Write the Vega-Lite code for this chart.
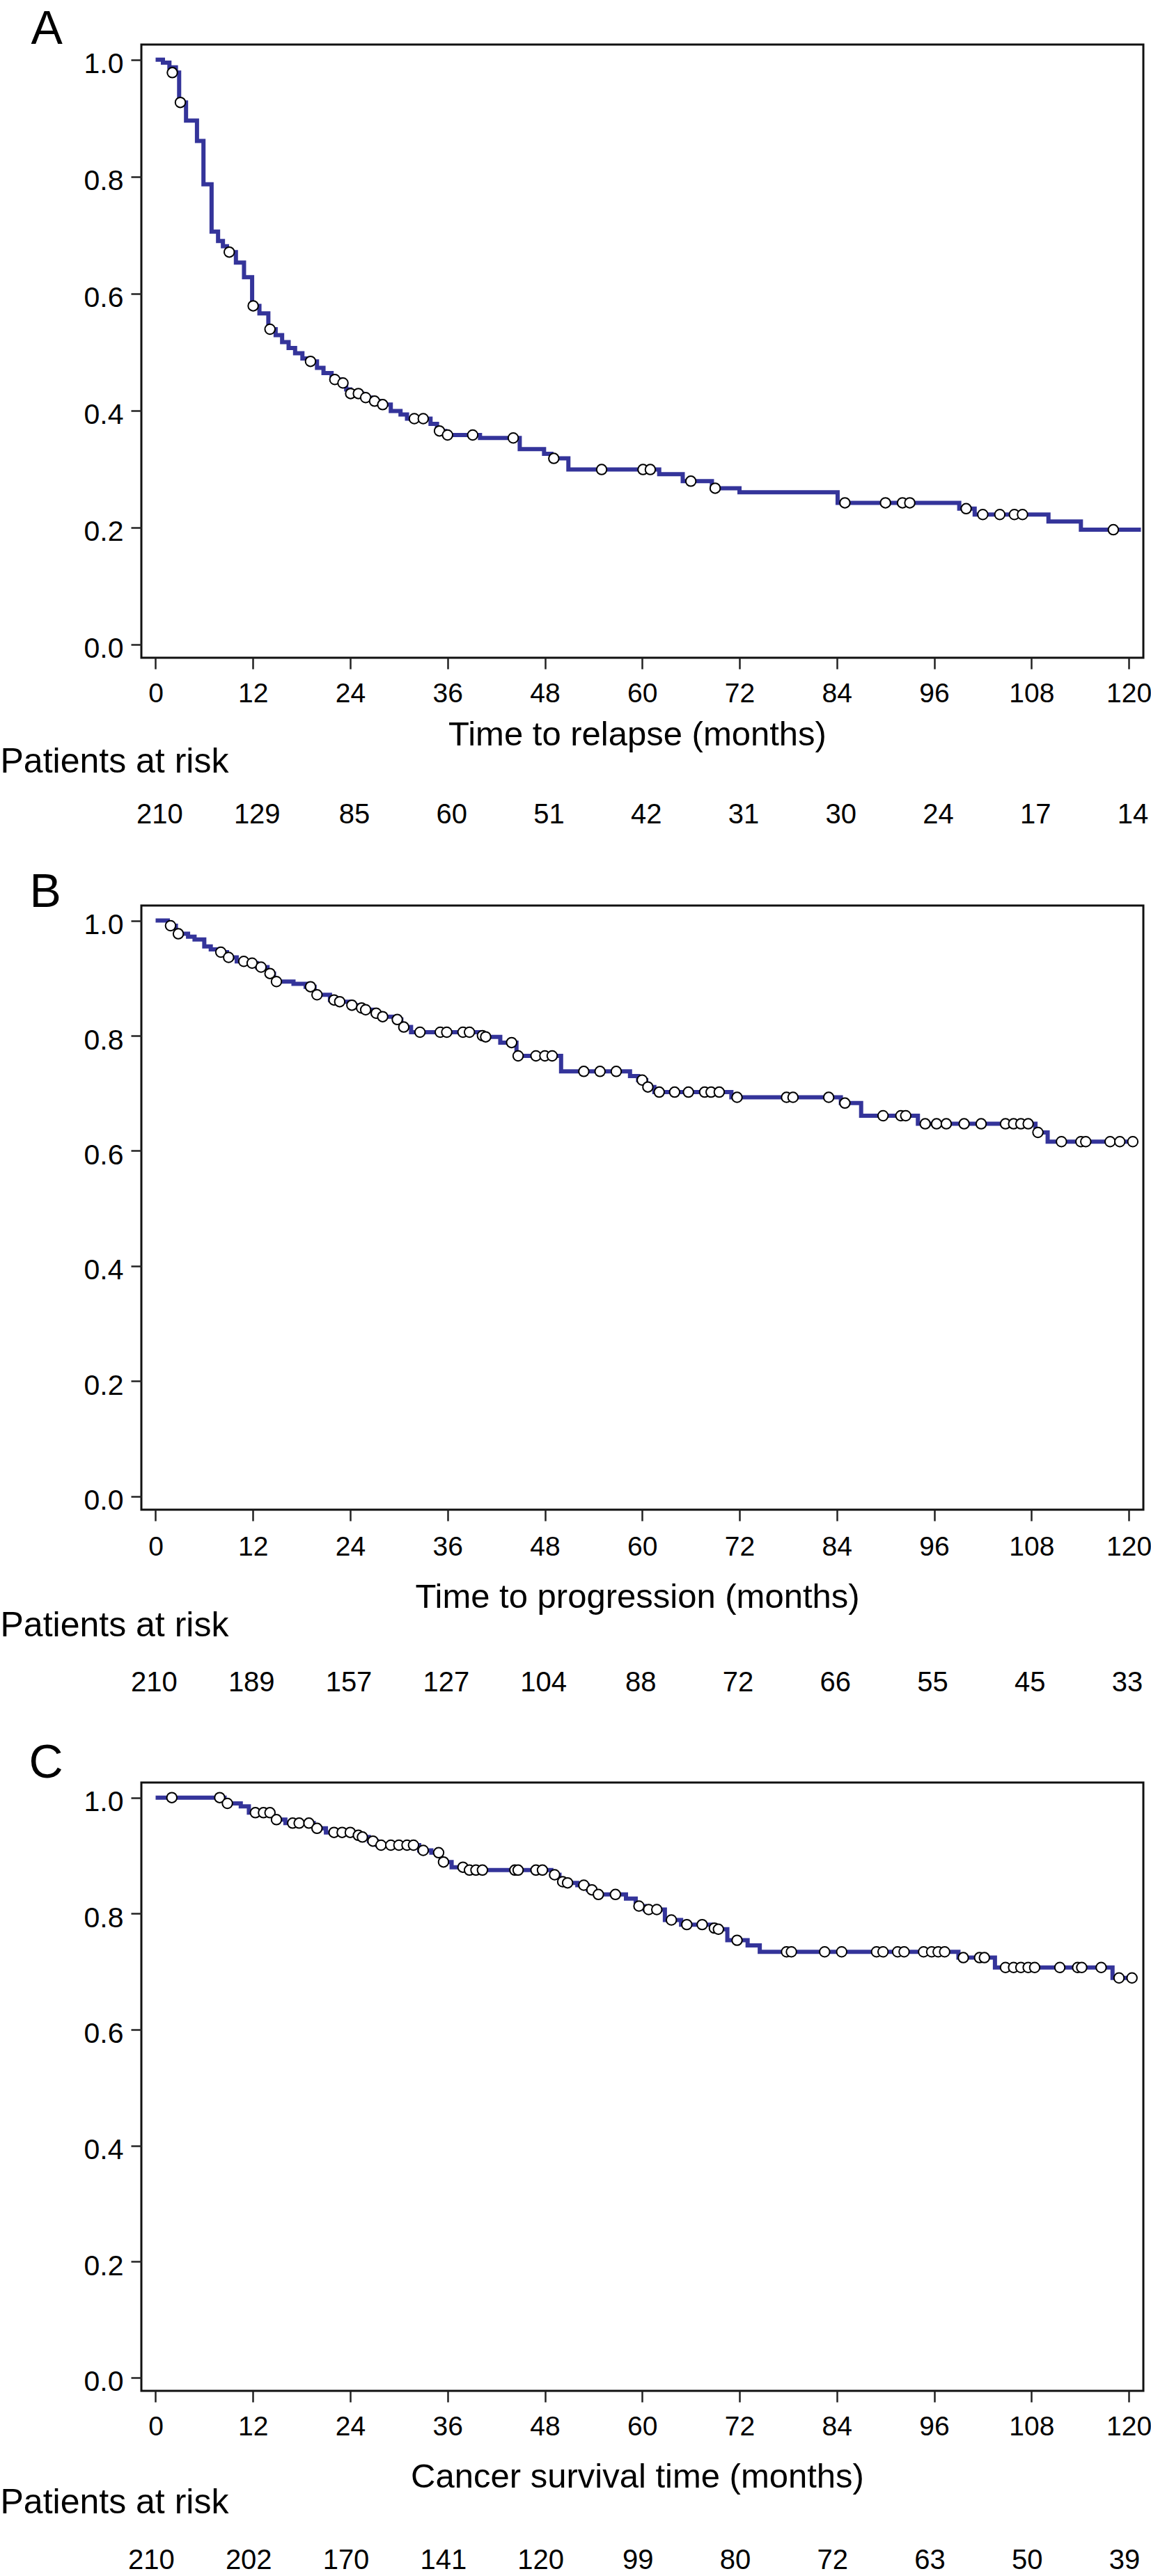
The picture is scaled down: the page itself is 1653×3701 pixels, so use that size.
{
  "$schema": "https://vega.github.io/schema/vega-lite/v6.json",
  "padding": {"left": 0, "top": 6, "right": 0, "bottom": 0},
  "background": "white",
  "bounds": "flush",
  "spacing": 0,
  "config": {
    "font": "Liberation Sans",
    "view": {"stroke": "#111111", "strokeWidth": 3},
    "axis": {"domain": false, "grid": false, "tickColor": "#222222", "tickWidth": 2.5, "labelColor": "black", "titleColor": "black", "titleFontWeight": "normal", "labelFontSize": 39, "titleFontSize": 49, "labelFlush": false, "labelOverlap": false}
  },
  "datasets": {
    "kmA": [
      {"t": 0, "s": 1.0}, {"t": 0.9, "s": 0.995}, {"t": 1.7, "s": 0.987}, {"t": 2.5, "s": 0.978}, {"t": 2.9, "s": 0.927}, {"t": 3.75, "s": 0.896}, {"t": 5.1, "s": 0.861}, {"t": 5.9, "s": 0.787}, {"t": 6.9, "s": 0.706}, {"t": 7.7, "s": 0.69}, {"t": 8.3, "s": 0.681}, {"t": 8.8, "s": 0.671}, {"t": 9.9, "s": 0.653}, {"t": 10.9, "s": 0.628}, {"t": 11.9, "s": 0.579}, {"t": 12.8, "s": 0.566}, {"t": 13.9, "s": 0.539}, {"t": 14.8, "s": 0.529}, {"t": 15.6, "s": 0.517}, {"t": 16.4, "s": 0.507}, {"t": 17.2, "s": 0.498}, {"t": 18.1, "s": 0.489}, {"t": 18.9, "s": 0.484}, {"t": 19.9, "s": 0.473}, {"t": 20.7, "s": 0.464}, {"t": 21.7, "s": 0.453}, {"t": 22.9, "s": 0.447}, {"t": 23.5, "s": 0.436}, {"t": 24.0, "s": 0.429}, {"t": 25.5, "s": 0.422}, {"t": 26.6, "s": 0.416}, {"t": 27.6, "s": 0.41}, {"t": 29.0, "s": 0.399}, {"t": 30.2, "s": 0.393}, {"t": 31.0, "s": 0.386}, {"t": 33.9, "s": 0.377}, {"t": 34.7, "s": 0.365}, {"t": 35.7, "s": 0.358}, {"t": 40.0, "s": 0.353}, {"t": 44.9, "s": 0.334}, {"t": 47.9, "s": 0.326}, {"t": 48.8, "s": 0.318}, {"t": 50.9, "s": 0.299}, {"t": 62.1, "s": 0.291}, {"t": 65.0, "s": 0.279}, {"t": 68.6, "s": 0.267}, {"t": 72.0, "s": 0.26}, {"t": 84.1, "s": 0.242}, {"t": 99.1, "s": 0.232}, {"t": 101.0, "s": 0.222}, {"t": 110.1, "s": 0.21}, {"t": 114.1, "s": 0.196}, {"t": 121.5, "s": 0.196}
    ],
    "censA": [
      {"t": 2.06, "s": 0.978}, {"t": 3.05, "s": 0.927}, {"t": 9.08, "s": 0.671}, {"t": 12.03, "s": 0.579}, {"t": 14.1, "s": 0.539}, {"t": 19.1, "s": 0.484}, {"t": 22.1, "s": 0.453}, {"t": 23.1, "s": 0.447}, {"t": 24.05, "s": 0.429}, {"t": 25.0, "s": 0.429}, {"t": 25.9, "s": 0.422}, {"t": 27.0, "s": 0.416}, {"t": 28.0, "s": 0.41}, {"t": 31.9, "s": 0.386}, {"t": 33.0, "s": 0.386}, {"t": 35.0, "s": 0.365}, {"t": 36.0, "s": 0.358}, {"t": 39.1, "s": 0.358}, {"t": 44.1, "s": 0.353}, {"t": 49.1, "s": 0.318}, {"t": 55.0, "s": 0.299}, {"t": 60.1, "s": 0.299}, {"t": 61.0, "s": 0.299}, {"t": 66.0, "s": 0.279}, {"t": 69.0, "s": 0.267}, {"t": 85.0, "s": 0.242}, {"t": 90.0, "s": 0.242}, {"t": 92.1, "s": 0.242}, {"t": 93.0, "s": 0.242}, {"t": 99.95, "s": 0.232}, {"t": 102.0, "s": 0.222}, {"t": 104.1, "s": 0.222}, {"t": 105.9, "s": 0.222}, {"t": 106.9, "s": 0.222}, {"t": 118.1, "s": 0.196}
    ],
    "riskA": [
      {"t": 0, "n": 210}, {"t": 12, "n": 129}, {"t": 24, "n": 85}, {"t": 36, "n": 60}, {"t": 48, "n": 51}, {"t": 60, "n": 42}, {"t": 72, "n": 31}, {"t": 84, "n": 30}, {"t": 96, "n": 24}, {"t": 108, "n": 17}, {"t": 120, "n": 14}
    ],
    "kmB": [
      {"t": 0, "s": 1.0}, {"t": 1.5, "s": 0.991}, {"t": 2.5, "s": 0.977}, {"t": 4.0, "s": 0.972}, {"t": 4.8, "s": 0.967}, {"t": 6.0, "s": 0.955}, {"t": 6.8, "s": 0.95}, {"t": 7.8, "s": 0.945}, {"t": 8.8, "s": 0.936}, {"t": 10.0, "s": 0.929}, {"t": 11.5, "s": 0.926}, {"t": 12.5, "s": 0.919}, {"t": 13.8, "s": 0.908}, {"t": 14.6, "s": 0.894}, {"t": 17.0, "s": 0.89}, {"t": 18.5, "s": 0.885}, {"t": 19.6, "s": 0.871}, {"t": 21.5, "s": 0.862}, {"t": 22.5, "s": 0.859}, {"t": 24.0, "s": 0.853}, {"t": 25.0, "s": 0.848}, {"t": 25.7, "s": 0.845}, {"t": 26.8, "s": 0.839}, {"t": 27.8, "s": 0.833}, {"t": 29.5, "s": 0.828}, {"t": 30.3, "s": 0.815}, {"t": 31.5, "s": 0.806}, {"t": 40.0, "s": 0.8}, {"t": 40.5, "s": 0.798}, {"t": 42.5, "s": 0.788}, {"t": 44.5, "s": 0.765}, {"t": 50.0, "s": 0.738}, {"t": 58.5, "s": 0.73}, {"t": 59.5, "s": 0.723}, {"t": 60.5, "s": 0.711}, {"t": 61.5, "s": 0.702}, {"t": 71.0, "s": 0.693}, {"t": 84.5, "s": 0.683}, {"t": 87.0, "s": 0.661}, {"t": 94.0, "s": 0.647}, {"t": 108.5, "s": 0.632}, {"t": 110.0, "s": 0.616}, {"t": 121.0, "s": 0.616}
    ],
    "censB": [
      {"t": 1.84, "s": 0.991}, {"t": 2.8, "s": 0.977}, {"t": 8.04, "s": 0.945}, {"t": 9.0, "s": 0.936}, {"t": 10.87, "s": 0.929}, {"t": 11.9, "s": 0.926}, {"t": 13.0, "s": 0.919}, {"t": 14.1, "s": 0.908}, {"t": 14.9, "s": 0.894}, {"t": 19.1, "s": 0.885}, {"t": 19.9, "s": 0.871}, {"t": 22.0, "s": 0.862}, {"t": 22.7, "s": 0.859}, {"t": 24.2, "s": 0.853}, {"t": 25.4, "s": 0.848}, {"t": 25.9, "s": 0.845}, {"t": 27.2, "s": 0.839}, {"t": 28.0, "s": 0.833}, {"t": 29.8, "s": 0.828}, {"t": 30.6, "s": 0.815}, {"t": 32.6, "s": 0.806}, {"t": 35.1, "s": 0.806}, {"t": 35.9, "s": 0.806}, {"t": 37.9, "s": 0.806}, {"t": 38.7, "s": 0.806}, {"t": 40.3, "s": 0.8}, {"t": 40.7, "s": 0.798}, {"t": 43.9, "s": 0.788}, {"t": 44.7, "s": 0.765}, {"t": 46.9, "s": 0.765}, {"t": 48.0, "s": 0.765}, {"t": 48.9, "s": 0.765}, {"t": 52.8, "s": 0.738}, {"t": 54.8, "s": 0.738}, {"t": 56.8, "s": 0.738}, {"t": 60.0, "s": 0.723}, {"t": 60.7, "s": 0.711}, {"t": 62.1, "s": 0.702}, {"t": 64.0, "s": 0.702}, {"t": 65.7, "s": 0.702}, {"t": 67.7, "s": 0.702}, {"t": 68.5, "s": 0.702}, {"t": 69.5, "s": 0.702}, {"t": 71.7, "s": 0.693}, {"t": 77.8, "s": 0.693}, {"t": 78.6, "s": 0.693}, {"t": 83.0, "s": 0.693}, {"t": 85.0, "s": 0.683}, {"t": 89.7, "s": 0.661}, {"t": 91.9, "s": 0.661}, {"t": 92.5, "s": 0.661}, {"t": 94.9, "s": 0.647}, {"t": 96.3, "s": 0.647}, {"t": 97.5, "s": 0.647}, {"t": 99.7, "s": 0.647}, {"t": 101.8, "s": 0.647}, {"t": 104.8, "s": 0.647}, {"t": 105.8, "s": 0.647}, {"t": 106.7, "s": 0.647}, {"t": 107.6, "s": 0.647}, {"t": 108.8, "s": 0.632}, {"t": 111.7, "s": 0.616}, {"t": 114.1, "s": 0.616}, {"t": 114.7, "s": 0.616}, {"t": 117.7, "s": 0.616}, {"t": 118.9, "s": 0.616}, {"t": 120.5, "s": 0.616}
    ],
    "riskB": [
      {"t": 0, "n": 210}, {"t": 12, "n": 189}, {"t": 24, "n": 157}, {"t": 36, "n": 127}, {"t": 48, "n": 104}, {"t": 60, "n": 88}, {"t": 72, "n": 72}, {"t": 84, "n": 66}, {"t": 96, "n": 55}, {"t": 108, "n": 45}, {"t": 120, "n": 33}
    ],
    "kmC": [
      {"t": 0, "s": 1.0}, {"t": 8.5, "s": 0.99}, {"t": 10.5, "s": 0.985}, {"t": 11.5, "s": 0.974}, {"t": 14.5, "s": 0.962}, {"t": 16.0, "s": 0.956}, {"t": 19.5, "s": 0.947}, {"t": 21.0, "s": 0.94}, {"t": 24.5, "s": 0.935}, {"t": 25.3, "s": 0.932}, {"t": 26.3, "s": 0.925}, {"t": 27.3, "s": 0.918}, {"t": 32.5, "s": 0.909}, {"t": 34.0, "s": 0.905}, {"t": 35.2, "s": 0.889}, {"t": 36.5, "s": 0.88}, {"t": 38.3, "s": 0.875}, {"t": 48.8, "s": 0.867}, {"t": 49.8, "s": 0.855}, {"t": 50.5, "s": 0.853}, {"t": 52.0, "s": 0.849}, {"t": 53.3, "s": 0.841}, {"t": 54.2, "s": 0.833}, {"t": 58.0, "s": 0.826}, {"t": 59.2, "s": 0.813}, {"t": 60.3, "s": 0.807}, {"t": 62.8, "s": 0.789}, {"t": 64.8, "s": 0.781}, {"t": 68.5, "s": 0.775}, {"t": 69.2, "s": 0.773}, {"t": 70.5, "s": 0.754}, {"t": 73.0, "s": 0.745}, {"t": 74.5, "s": 0.734}, {"t": 99.0, "s": 0.724}, {"t": 103.5, "s": 0.707}, {"t": 118.0, "s": 0.689}, {"t": 121.0, "s": 0.689}
    ],
    "censC": [
      {"t": 2.0, "s": 1.0}, {"t": 7.9, "s": 1.0}, {"t": 8.85, "s": 0.99}, {"t": 12.3, "s": 0.974}, {"t": 13.3, "s": 0.974}, {"t": 14.1, "s": 0.974}, {"t": 14.9, "s": 0.962}, {"t": 16.9, "s": 0.956}, {"t": 17.7, "s": 0.956}, {"t": 18.9, "s": 0.956}, {"t": 19.9, "s": 0.947}, {"t": 22.0, "s": 0.94}, {"t": 23.0, "s": 0.94}, {"t": 24.0, "s": 0.94}, {"t": 25.0, "s": 0.935}, {"t": 25.5, "s": 0.932}, {"t": 26.8, "s": 0.925}, {"t": 27.8, "s": 0.918}, {"t": 29.0, "s": 0.918}, {"t": 30.0, "s": 0.918}, {"t": 31.0, "s": 0.918}, {"t": 31.8, "s": 0.918}, {"t": 33.0, "s": 0.909}, {"t": 34.9, "s": 0.905}, {"t": 35.5, "s": 0.889}, {"t": 37.9, "s": 0.88}, {"t": 38.7, "s": 0.875}, {"t": 39.5, "s": 0.875}, {"t": 40.3, "s": 0.875}, {"t": 44.3, "s": 0.875}, {"t": 44.7, "s": 0.875}, {"t": 46.9, "s": 0.875}, {"t": 47.7, "s": 0.875}, {"t": 49.2, "s": 0.867}, {"t": 50.2, "s": 0.855}, {"t": 50.8, "s": 0.853}, {"t": 52.8, "s": 0.849}, {"t": 53.8, "s": 0.841}, {"t": 54.6, "s": 0.833}, {"t": 56.7, "s": 0.833}, {"t": 59.6, "s": 0.813}, {"t": 60.8, "s": 0.807}, {"t": 61.8, "s": 0.807}, {"t": 63.6, "s": 0.789}, {"t": 65.5, "s": 0.781}, {"t": 67.4, "s": 0.781}, {"t": 68.9, "s": 0.775}, {"t": 69.4, "s": 0.773}, {"t": 71.7, "s": 0.754}, {"t": 77.8, "s": 0.734}, {"t": 78.4, "s": 0.734}, {"t": 82.5, "s": 0.734}, {"t": 84.6, "s": 0.734}, {"t": 88.9, "s": 0.734}, {"t": 89.7, "s": 0.734}, {"t": 91.5, "s": 0.734}, {"t": 92.3, "s": 0.734}, {"t": 94.7, "s": 0.734}, {"t": 95.7, "s": 0.734}, {"t": 96.5, "s": 0.734}, {"t": 97.3, "s": 0.734}, {"t": 99.6, "s": 0.724}, {"t": 101.6, "s": 0.724}, {"t": 102.2, "s": 0.724}, {"t": 104.8, "s": 0.707}, {"t": 105.8, "s": 0.707}, {"t": 106.7, "s": 0.707}, {"t": 107.6, "s": 0.707}, {"t": 108.4, "s": 0.707}, {"t": 111.5, "s": 0.707}, {"t": 113.7, "s": 0.707}, {"t": 114.2, "s": 0.707}, {"t": 116.6, "s": 0.707}, {"t": 118.8, "s": 0.689}, {"t": 120.4, "s": 0.689}
    ],
    "riskC": [
      {"t": 0, "n": 210}, {"t": 12, "n": 202}, {"t": 24, "n": 170}, {"t": 36, "n": 141}, {"t": 48, "n": 120}, {"t": 60, "n": 99}, {"t": 72, "n": 80}, {"t": 84, "n": 72}, {"t": 96, "n": 63}, {"t": 108, "n": 50}, {"t": 120, "n": 39}
    ]
  },
  "vconcat": [
    {
      "width": 1439, "height": 881,
      "encoding": {
        "x": {"field": "t", "type": "quantitative", "scale": {"domain": [-1.76, 121.8], "nice": false, "zero": false},
              "axis": {"values": [0, 12, 24, 36, 48, 60, 72, 84, 96, 108, 120], "title": "Time to relapse (months)", "tickSize": 16, "labelPadding": 16, "titlePadding": 15.6, "titleX": 712}},
        "y": {"field": "s", "type": "quantitative", "scale": {"domain": [-0.023, 1.026], "nice": false, "zero": false},
              "axis": {"values": [0, 0.2, 0.4, 0.6, 0.8, 1.0], "format": ".1f", "tickSize": 15, "labelPadding": 11, "labelFontSize": 41, "labelOffset": 7,
                       "title": "A", "titleAngle": 0, "titleAlign": "left", "titleBaseline": "alphabetic", "titleX": -159, "titleY": -2, "titleFontSize": 68}}
      },
      "layer": [
        {"data": {"name": "kmA"}, "mark": {"type": "line", "interpolate": "step-after", "color": "#34349a", "strokeWidth": 6}},
        {"data": {"name": "censA"}, "mark": {"type": "point", "shape": "circle", "filled": true, "fill": "white", "stroke": "black", "strokeWidth": 2, "size": 210, "opacity": 1}}
      ]
    },
    {
      "width": 1439, "height": 356,
      "view": {"stroke": null},
      "data": {"name": "riskA"},
      "mark": {"type": "text", "fontSize": 40, "dy": 48, "dx": 6, "baseline": "middle", "color": "black"},
      "encoding": {
        "x": {"field": "t", "type": "quantitative", "scale": {"domain": [-1.76, 121.8], "nice": false, "zero": false},
              "axis": {"orient": "top", "ticks": false, "labels": false, "domain": false, "title": "Patients at risk", "titleAngle": 0, "titleAlign": "left", "titleBaseline": "alphabetic", "titleX": -203, "titleY": 164, "titleFontSize": 50}},
        "text": {"field": "n", "type": "quantitative"}
      }
    },
    {
      "width": 1439, "height": 868,
      "encoding": {
        "x": {"field": "t", "type": "quantitative", "scale": {"domain": [-1.76, 121.8], "nice": false, "zero": false},
              "axis": {"values": [0, 12, 24, 36, 48, 60, 72, 84, 96, 108, 120], "title": "Time to progression (months)", "tickSize": 16, "labelPadding": 18, "titlePadding": 28, "titleX": 712}},
        "y": {"field": "s", "type": "quantitative", "scale": {"domain": [-0.023, 1.026], "nice": false, "zero": false},
              "axis": {"values": [0, 0.2, 0.4, 0.6, 0.8, 1.0], "format": ".1f", "tickSize": 15, "labelPadding": 11, "labelFontSize": 41, "labelOffset": 7,
                       "title": "B", "titleAngle": 0, "titleAlign": "left", "titleBaseline": "alphabetic", "titleX": -161, "titleY": 1, "titleFontSize": 68}}
      },
      "layer": [
        {"data": {"name": "kmB"}, "mark": {"type": "line", "interpolate": "step-after", "color": "#34349a", "strokeWidth": 6}},
        {"data": {"name": "censB"}, "mark": {"type": "point", "shape": "circle", "filled": true, "fill": "white", "stroke": "black", "strokeWidth": 2, "size": 210, "opacity": 1}}
      ]
    },
    {
      "width": 1439, "height": 392,
      "view": {"stroke": null},
      "data": {"name": "riskB"},
      "mark": {"type": "text", "fontSize": 40, "dy": 53, "dx": -2, "baseline": "middle", "color": "black"},
      "encoding": {
        "x": {"field": "t", "type": "quantitative", "scale": {"domain": [-1.76, 121.8], "nice": false, "zero": false},
              "axis": {"orient": "top", "ticks": false, "labels": false, "domain": false, "title": "Patients at risk", "titleAngle": 0, "titleAlign": "left", "titleBaseline": "alphabetic", "titleX": -203, "titleY": 181, "titleFontSize": 50}},
        "text": {"field": "n", "type": "quantitative"}
      }
    },
    {
      "width": 1439, "height": 874,
      "encoding": {
        "x": {"field": "t", "type": "quantitative", "scale": {"domain": [-1.76, 121.8], "nice": false, "zero": false},
              "axis": {"values": [0, 12, 24, 36, 48, 60, 72, 84, 96, 108, 120], "title": "Cancer survival time (months)", "tickSize": 16, "labelPadding": 16, "titlePadding": 28, "titleX": 712}},
        "y": {"field": "s", "type": "quantitative", "scale": {"domain": [-0.023, 1.026], "nice": false, "zero": false},
              "axis": {"values": [0, 0.2, 0.4, 0.6, 0.8, 1.0], "format": ".1f", "tickSize": 15, "labelPadding": 11, "labelFontSize": 41, "labelOffset": 7,
                       "title": "C", "titleAngle": 0, "titleAlign": "left", "titleBaseline": "alphabetic", "titleX": -162, "titleY": -8, "titleFontSize": 68}}
      },
      "layer": [
        {"data": {"name": "kmC"}, "mark": {"type": "line", "interpolate": "step-after", "color": "#34349a", "strokeWidth": 6}},
        {"data": {"name": "censC"}, "mark": {"type": "point", "shape": "circle", "filled": true, "fill": "white", "stroke": "black", "strokeWidth": 2, "size": 210, "opacity": 1}}
      ]
    },
    {
      "width": 1439, "height": 268,
      "view": {"stroke": null},
      "data": {"name": "riskC"},
      "mark": {"type": "text", "fontSize": 40, "dy": 110, "dx": -6, "baseline": "middle", "color": "black"},
      "encoding": {
        "x": {"field": "t", "type": "quantitative", "scale": {"domain": [-1.76, 121.8], "nice": false, "zero": false},
              "axis": {"orient": "top", "ticks": false, "labels": false, "domain": false, "title": "Patients at risk", "titleAngle": 0, "titleAlign": "left", "titleBaseline": "alphabetic", "titleX": -203, "titleY": 175, "titleFontSize": 50}},
        "text": {"field": "n", "type": "quantitative"}
      }
    }
  ]
}
